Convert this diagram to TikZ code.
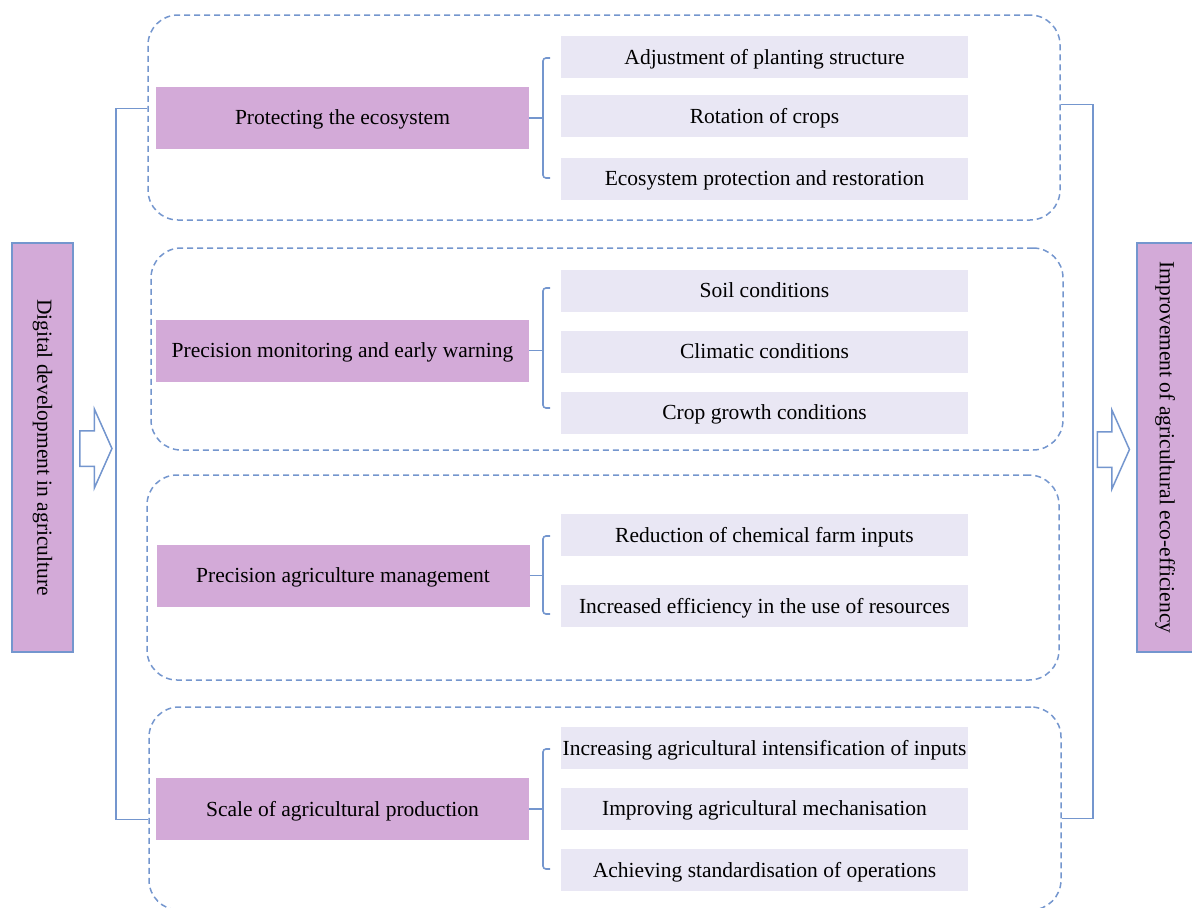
\documentclass[tikz,border=0pt]{standalone}
\usepackage{fontspec}
\setmainfont{Liberation Serif}
\usepackage{xcolor}
\usetikzlibrary{arrows,shapes,positioning,fit,arrows.meta,backgrounds,calc}

\definecolor{lineblue}{HTML}{7496CE}
\definecolor{headpurple}{HTML}{D3AAD8}
\definecolor{itemgrey}{HTML}{E9E7F4}

\tikzset{
  group/.style={draw=lineblue,dashed,dash pattern=on 6pt off 4pt,line width=1.5pt,rounded corners=30pt,minimum width=912pt,inner sep=0pt},
  head/.style={fill=headpurple,minimum width=373pt,minimum height=62pt,inner sep=0pt,text depth=1pt},
  item/.style={fill=itemgrey,minimum width=407pt,minimum height=42pt,inner sep=0pt,text depth=1pt},
  side/.style={draw=lineblue,fill=headpurple,line width=1.5pt,minimum width=409pt,inner sep=0pt,rotate=-90},
  link/.style={draw=lineblue,line width=1.6pt},
  hollow/.style={single arrow,draw=lineblue,fill=white,line width=1.5pt,minimum height=32pt,inner xsep=0pt,inner ysep=17pt,single arrow head extend=21.5pt,single arrow tip angle=132}
}

\begin{document}
\begin{tikzpicture}[x=1pt,y=-1pt]
\fontsize{21.5}{25}\selectfont
\useasboundingbox (0,0) rectangle (1192,908);

% outer dashed groups
\node[group,minimum height=205pt] (g1) at (604,117.5) {};
\node[group,minimum height=202pt] (g2) at (607,349) {};
\node[group,minimum height=205pt] (g3) at (603,577.5) {};
\node[group,minimum height=203pt] (g4) at (605,808.5) {};

% left and right boxes
\node[side,minimum height=61pt] (dig) at (42.5,447.5) {Digital development in agriculture};
\node[side,minimum height=56pt] (eco) at (1165,447.5) {Improvement of agricultural eco-efficiency};

\node[hollow] (la) at (92,448.5) {};
\node[hollow] (ra) at (1109.5,449.5) {};

% left and right brackets
\draw[link] ([yshift=9pt]g1.west) -- ++(-31,0) |- ([yshift=-11pt]g4.west);
\draw[link] ([yshift=13pt]g1.east) -- ++(32,0) |- ([yshift=-10pt]g4.east);

% group 1
\node[head] (pe) at (342.5,118) {Protecting the ecosystem};
\node[item] (i11) at (764.5,57) {Adjustment of planting structure};
\node[item] (i12) at (764.5,116) {Rotation of crops};
\node[item] (i13) at (764.5,179) {Ecosystem protection and restoration};
\draw[link] (pe.east) -- (543,118);
\draw[link,rounded corners=3pt] (550,58) -| (543,178) -- (550,178);

% group 2
\node[head] (pm) at (342.5,350.5) {Precision monitoring and early warning};
\node[item] (i21) at (764.5,291) {Soil conditions};
\node[item] (i22) at (764.5,352) {Climatic conditions};
\node[item] (i23) at (764.5,413) {Crop growth conditions};
\draw[link] (pm.east) -- (543,350.5);
\draw[link,rounded corners=3pt] (550,288) -| (543,408) -- (550,408);

% group 3
\node[head] (pa) at (343,575.5) {Precision agriculture management};
\node[item] (i31) at (764.5,535) {Reduction of chemical farm inputs};
\node[item] (i32) at (764.5,606) {Increased efficiency in the use of resources};
\draw[link] (pa.east) -- (543,575.5);
\draw[link,rounded corners=3pt] (550,536) -| (543,614) -- (550,614);

% group 4
\node[head] (sp) at (342.5,809) {Scale of agricultural production};
\node[item] (i41) at (764.5,748) {Increasing agricultural intensification of inputs};
\node[item] (i42) at (764.5,809) {Improving agricultural mechanisation};
\node[item] (i43) at (764.5,870) {Achieving standardisation of operations};
\draw[link] (sp.east) -- (543,809);
\draw[link,rounded corners=3pt] (550,749) -| (543,869) -- (550,869);
\end{tikzpicture}
\end{document}
